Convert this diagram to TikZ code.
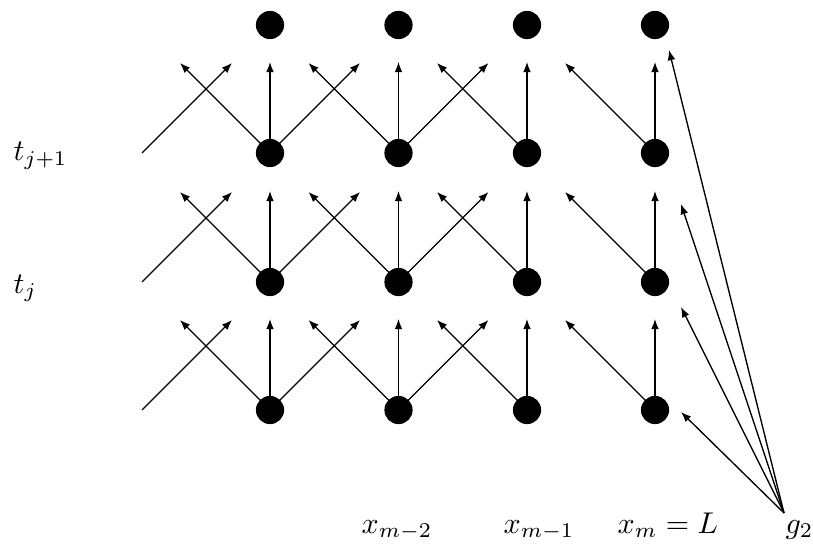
\documentclass[tikz,border=0pt]{standalone}
\usetikzlibrary{arrows.meta}
\begin{document}
\begin{tikzpicture}[x=0.3333pt,y=-0.3333pt,
  dot/.style={circle,fill=black,inner sep=0pt,minimum size=9.4pt},
  arr/.style={-{Latex[length=3.4pt,width=2.6pt]},line width=0.45pt},
  lab/.style={anchor=base west,inner sep=0pt}]
\useasboundingbox (0,0) rectangle (813,546);
% dots
\foreach \c/\x in {1/270,2/398.5,3/527,4/655}{
  \foreach \r/\y in {0/25,1/153,2/282,3/410}{
    \node[dot] (d\c\r) at (\x,\y) {};
  }
}
% arrows from dots
\foreach \r/\y in {1/153,2/282,3/410}{
  \coordinate (s\r) at (142,\y);
  \coordinate (sr\r) at (232,\y-90);
  \draw[arr] (s\r) -- (sr\r);
  \foreach \c/\x in {1/270,2/398.5,3/527,4/655}{
    \coordinate (u\c\r) at (\x,\y-91);
    \coordinate (l\c\r) at (\x-90,\y-90);
    \draw[arr] (d\c\r.center) -- (u\c\r);
    \draw[arr] (d\c\r.center) -- (l\c\r);
  }
  \foreach \c/\x in {1/270,2/398.5}{
    \coordinate (r\c\r) at (\x+90,\y-90);
    \draw[arr] (d\c\r.center) -- (r\c\r);
  }
}
% labels
\node[lab] (tj1) at (13,161) {$t_{j+1}$};
\node[lab] (tj) at (13,293) {$t_j$};
\node[lab] (xm2) at (361,533) {$x_{m-2}$};
\node[lab] (xm1) at (503,533) {$x_{m-1}$};
\node[lab] (xm) at (617,533) {$x_m = L$};
\node[lab] (g) at (785,533) {$g_2$};
% g2 arrows
\coordinate (gs) at (784,513);
\coordinate (g0) at (669,50);
\coordinate (g1) at (681,204);
\coordinate (g2) at (681,307);
\coordinate (g3) at (681,412);
\foreach \k in {0,1,2,3}{
  \draw[arr] (gs) -- (g\k);
}
\end{tikzpicture}
\end{document}
